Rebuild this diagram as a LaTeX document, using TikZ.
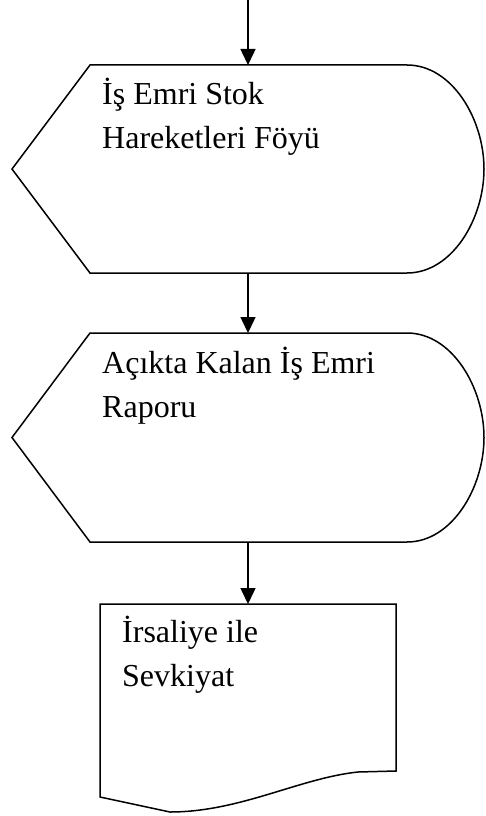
\documentclass[tikz,border=0pt]{standalone}
\usepackage{fontspec}
\setmainfont{Liberation Serif}
\usetikzlibrary{arrows.meta,
                positioning}
\tikzset{displaybox/.style =
   {rectangle,
    minimum width=472pt,
    minimum height=208pt,
    inner sep=0pt,
    outer sep=0pt}}
\tikzset{docbox/.style =
   {rectangle,
    minimum width=296pt,
    minimum height=208pt,
    inner sep=0pt,
    outer sep=0pt}}
\tikzset{outline/.style = {draw, line width=1.5pt, line join=miter}}
\tikzset{boxtext/.style =
   {align=left,
    inner sep=0pt,
    font=\fontsize{32}{44}\selectfont}}
\tikzset{arrow/.style = {draw, line width=1.5pt, -{Triangle[length=16pt, width=15pt]}}}

\begin{document}
\begin{tikzpicture}[x=1pt, y=1pt]

    \useasboundingbox (0,0) rectangle (485,-816);

    \coordinate (start) at (248,0);

    \node [displaybox] (foy) at (248,-169) {};

    \node [displaybox,
           minimum height=209pt,
           node distance = 60pt,
           below = of foy] (rapor) {};

    \node [docbox,
           node distance = 62pt,
           below = of rapor] (irsaliye) {};

    % display outlines
    \foreach \shp in {foy, rapor}
       \draw [outline] (\shp.west) -- ([xshift=78pt]\shp.north west)
          -- ([xshift=-77pt]\shp.north east)
          .. controls +(45pt,0pt) and +(0pt,50pt) .. (\shp.east)
          .. controls +(0pt,-50pt) and +(45pt,0pt) .. ([xshift=-77pt]\shp.south east)
          -- ([xshift=78pt]\shp.south west) -- cycle;

    % document outline
    \draw [outline] (irsaliye.north west) -- (irsaliye.north east)
       -- ([yshift=41pt]irsaliye.south east)
       -- ([xshift=-38pt, yshift=40pt]irsaliye.south east)
       .. controls ([xshift=-96pt, yshift=34pt]irsaliye.south east)
              and ([xshift=140pt]irsaliye.south west)
       .. ([xshift=70pt]irsaliye.south west)
       -- ([yshift=15pt]irsaliye.south west) -- cycle;

    % base anchor = baseline of the last line
    \node [boxtext, anchor=base west] (foytext)
       at ([xshift=90pt, yshift=-83pt]foy.north west) {İş Emri Stok\\Hareketleri Föyü};

    \node [boxtext, anchor=base west] (raportext)
       at ([xshift=90pt, yshift=-84pt]rapor.north west) {Açıkta Kalan İş Emri\\Raporu};

    \node [boxtext, anchor=base west] (irsaliyetext)
       at ([xshift=22pt, yshift=-82pt]irsaliye.north west) {İrsaliye ile\\Sevkiyat};

    \draw [arrow] (start) -- (foy);
    \draw [arrow] (foy) -- (rapor);
    \draw [arrow] (rapor) -- (irsaliye);

\end{tikzpicture}
\end{document}
